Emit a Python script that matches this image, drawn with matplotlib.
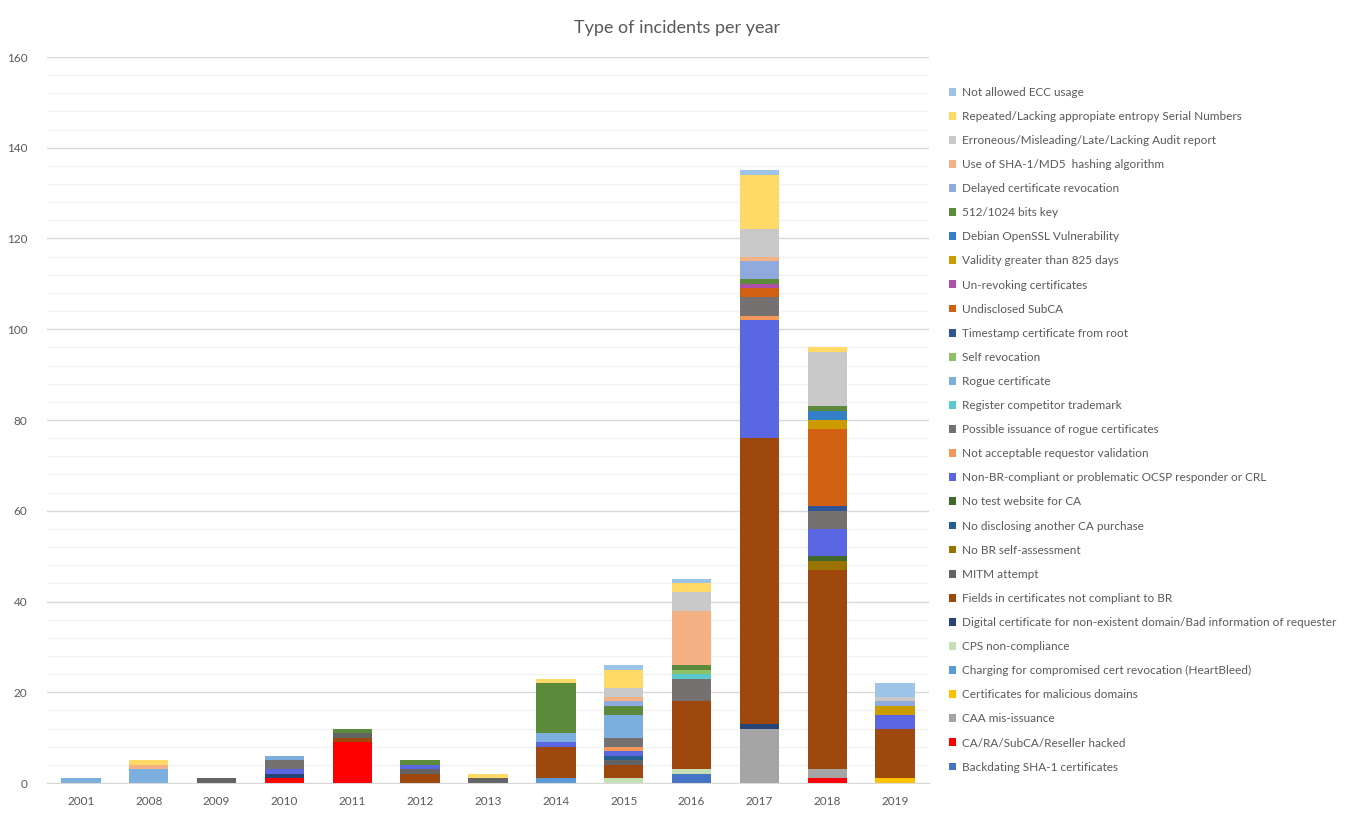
import matplotlib.pyplot as plt
import numpy as np

plt.rcParams['font.family'] = ['Lato', 'DejaVu Sans']

years = ['2001', '2008', '2009', '2010', '2011', '2012', '2013',
         '2014', '2015', '2016', '2017', '2018', '2019']

# series in stacking order (bottom first), values per year
labels = [
    "Backdating SHA-1 certificates",
    "CA/RA/SubCA/Reseller hacked",
    "CAA mis-issuance",
    "Certificates for malicious domains",
    "Charging for compromised cert revocation (HeartBleed)",
    "CPS non-compliance",
    "Digital certificate for non-existent domain/Bad information of requester",
    "Fields in certificates not compliant to BR",
    "MITM attempt",
    "No BR self-assessment",
    "No disclosing another CA purchase",
    "No test website for CA",
    "Non-BR-compliant or problematic OCSP responder or CRL",
    "Not acceptable requestor validation",
    "Possible issuance of rogue certificates",
    "Register competitor trademark",
    "Rogue certificate",
    "Self revocation",
    "Timestamp certificate from root",
    "Undisclosed SubCA",
    "Un-revoking certificates",
    "Validity greater than 825 days",
    "Debian OpenSSL Vulnerability",
    "512/1024 bits key",
    "Delayed certificate revocation",
    "Use of SHA-1/MD5  hashing algorithm",
    "Erroneous/Misleading/Late/Lacking Audit report",
    "Repeated/Lacking appropiate entropy Serial Numbers",
    "Not allowed ECC usage",
]

values = [
    [0, 0, 0, 0, 0, 0, 0, 0, 0, 2, 0, 0, 0],
    [0, 0, 0, 1, 9, 0, 0, 0, 0, 0, 0, 1, 0],
    [0, 0, 0, 0, 0, 0, 0, 0, 0, 0, 12, 2, 0],
    [0, 0, 0, 0, 0, 0, 0, 0, 0, 0, 0, 0, 1],
    [0, 0, 0, 0, 0, 0, 0, 1, 0, 0, 0, 0, 0],
    [0, 0, 0, 0, 0, 0, 0, 0, 1, 1, 0, 0, 0],
    [0, 0, 0, 1, 0, 0, 0, 0, 0, 0, 1, 0, 0],
    [0, 0, 0, 0, 1, 2, 0, 7, 3, 15, 63, 44, 11],
    [0, 0, 1, 0, 1, 1, 1, 0, 1, 0, 0, 0, 0],
    [0, 0, 0, 0, 0, 0, 0, 0, 0, 0, 0, 2, 0],
    [0, 0, 0, 0, 0, 0, 0, 0, 1, 0, 0, 0, 0],
    [0, 0, 0, 0, 0, 0, 0, 0, 0, 0, 0, 1, 0],
    [0, 0, 0, 1, 0, 1, 0, 1, 1, 0, 26, 6, 3],
    [0, 0, 0, 0, 0, 0, 0, 0, 1, 0, 1, 0, 0],
    [0, 0, 0, 2, 0, 0, 0, 0, 2, 5, 4, 4, 0],
    [0, 0, 0, 0, 0, 0, 0, 0, 0, 1, 0, 0, 0],
    [1, 3, 0, 1, 0, 0, 0, 2, 5, 0, 0, 0, 0],
    [0, 0, 0, 0, 0, 0, 0, 0, 0, 1, 0, 0, 0],
    [0, 0, 0, 0, 0, 0, 0, 0, 0, 0, 0, 1, 0],
    [0, 0, 0, 0, 0, 0, 0, 0, 0, 0, 2, 17, 0],
    [0, 0, 0, 0, 0, 0, 0, 0, 0, 0, 1, 0, 0],
    [0, 0, 0, 0, 0, 0, 0, 0, 0, 0, 0, 2, 2],
    [0, 0, 0, 0, 0, 0, 0, 0, 0, 0, 0, 2, 0],
    [0, 0, 0, 0, 1, 1, 0, 11, 2, 1, 1, 1, 0],
    [0, 0, 0, 0, 0, 0, 0, 0, 1, 0, 4, 0, 1],
    [0, 1, 0, 0, 0, 0, 0, 0, 1, 12, 1, 0, 0],
    [0, 0, 0, 0, 0, 0, 0, 0, 2, 4, 6, 12, 1],
    [0, 1, 0, 0, 0, 0, 1, 1, 4, 2, 12, 1, 0],
    [0, 0, 0, 0, 0, 0, 0, 0, 1, 1, 1, 0, 3],
]

colors = [
    '#4472C4', '#FF0000', '#A5A5A5', '#FFC000', '#5B9BD5', '#C5E0B4',
    '#264478', '#9E480E', '#636363', '#997300', '#255E91', '#43682B',
    '#5A66E2', '#F4975A', '#767171', '#5BC8CC', '#7DAFDE', '#8CC168',
    '#2F5597', '#D26012', '#B04FAA', '#CC9B00', '#3480C8', '#5B8A3A',
    '#8FAADC', '#F4B183', '#C9C9C9', '#FFD966', '#9DC3E6',
]

fig = plt.figure(figsize=(13.51, 8.13), dpi=100)
ax = fig.add_axes([47 / 1351, 30 / 813, 882 / 1351, 726 / 813])

x = np.arange(len(years))
bottom = np.zeros(len(years))
handles = []
for lab, vals, col in zip(labels, values, colors):
    b = ax.bar(x, vals, width=0.58, bottom=bottom, color=col, label=lab,
               linewidth=0)
    handles.append(b)
    bottom += np.array(vals)

ax.set_xlim(-0.5, len(years) - 0.5)
ax.set_ylim(0, 160)
ax.set_yticks(range(0, 161, 20))
ax.set_yticks(range(0, 161, 4), minor=True)
ax.set_xticks(x)
ax.set_xticklabels(years)
ax.grid(axis='y', which='major', color='#D9D9D9', linewidth=1)
ax.grid(axis='y', which='minor', color='#F2F2F2', linewidth=1)
ax.set_axisbelow(True)
for s in ['top', 'right', 'left']:
    ax.spines[s].set_visible(False)
ax.spines['bottom'].set_color('#D9D9D9')
ax.tick_params(axis='both', which='both', length=0, colors='#595959',
               labelsize=8.5)
ax.tick_params(axis='x', pad=9)
ax.tick_params(axis='y', pad=14)

fig.text(677 / 1351, 1 - 28 / 813, "Type of incidents per year",
         ha='center', va='center', fontsize=13, color='#595959')

leg = fig.legend(handles[::-1], labels[::-1], loc='upper left',
                 bbox_to_anchor=(944 / 1351, 1 - 82 / 813), frameon=False,
                 fontsize=8.5, handlelength=0.65, handleheight=0.65,
                 handletextpad=0.5, labelspacing=1.11, borderaxespad=0)
for t in leg.get_texts():
    t.set_color('#595959')

fig.savefig('out.png', dpi=100)
